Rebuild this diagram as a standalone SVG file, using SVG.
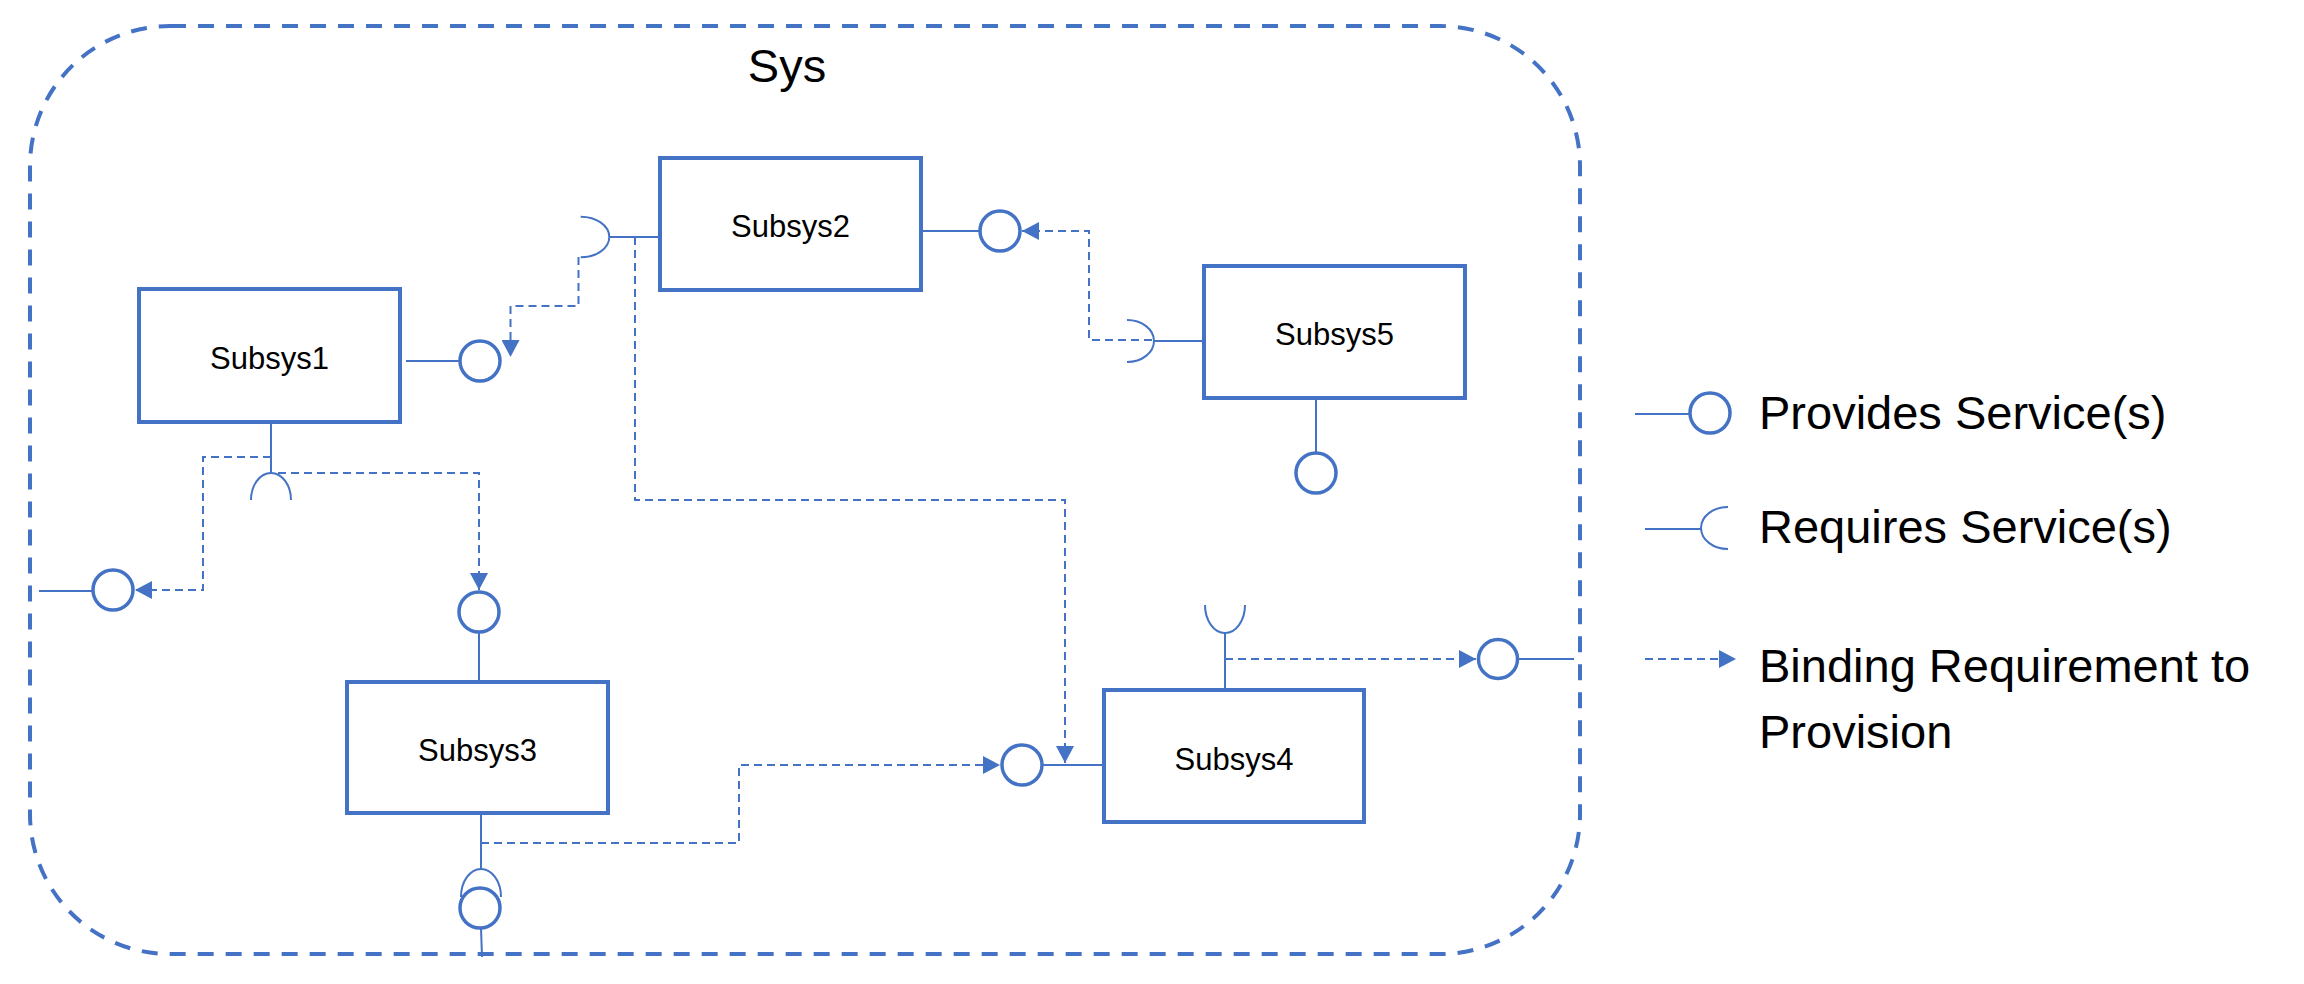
<svg xmlns="http://www.w3.org/2000/svg" width="2304" height="984" viewBox="0 0 2304 984">
<style>
.box{fill:#fff;stroke:#4472C4;stroke-width:4}
.ln{fill:none;stroke:#4472C4;stroke-width:2}
.ball{fill:#fff;stroke:#4472C4;stroke-width:3.5}
.dash{fill:none;stroke:#4472C4;stroke-width:2;stroke-dasharray:8 5;marker-end:url(#arr)}
.lbl{font-family:"Liberation Sans",Arial,sans-serif;font-size:31px;fill:#000;text-anchor:middle}
.big{font-family:"Liberation Sans",Arial,sans-serif;font-size:47px;fill:#000}
</style>
<defs>
<marker id="arr" markerUnits="userSpaceOnUse" markerWidth="18" markerHeight="18" refX="17" refY="9" orient="auto" viewBox="0 0 18 18">
<path d="M0,0 L17,9 L0,18 z" fill="#4472C4"/>
</marker>
</defs>
<rect id="sys-border" x="30" y="26" width="1550" height="928" rx="140" ry="140" fill="none" stroke="#4472C4" stroke-width="4" stroke-dasharray="16 12"/>
<text class="big" x="787" y="82" text-anchor="middle">Sys</text>

<g id="connectors">
<path class="dash" d="M578.5,257 V306 H510.5 V357"/>
<path class="dash" d="M635,237 V500 H1065 V763"/>
<path class="dash" d="M1152,340 H1089 V231 H1022"/>
<path class="dash" d="M271,457 H203 V590 H135"/>
<path class="dash" d="M278,473 H479 V590"/>
<path class="dash" d="M481,843 H739 V765 H1000"/>
<path class="dash" d="M1225,659 H1476"/>
</g>

<g id="subsys1">
<rect class="box" x="139" y="289" width="261" height="133"/>
<text class="lbl" x="269.5" y="369">Subsys1</text>
<line class="ln" x1="406" y1="361" x2="460" y2="361"/>
<circle class="ball" cx="480" cy="361" r="20"/>
<line class="ln" x1="271" y1="422" x2="271" y2="473"/>
<path class="ln" d="M251,500 A20,27 0 0 1 291,500"/>
</g>

<g id="port-left">
<line class="ln" x1="39" y1="591" x2="93" y2="591"/>
<circle class="ball" cx="113" cy="590" r="20"/>
</g>

<g id="subsys2">
<rect class="box" x="660" y="158" width="261" height="132"/>
<text class="lbl" x="790.5" y="237">Subsys2</text>
<path class="ln" d="M580.7,216.7 A28.6,20.3 0 0 1 580.7,257.3"/>
<line class="ln" x1="609" y1="237" x2="660" y2="237"/>
<line class="ln" x1="923" y1="231" x2="980" y2="231"/>
<circle class="ball" cx="1000" cy="231" r="20"/>
</g>

<g id="subsys5">
<rect class="box" x="1204" y="266" width="261" height="132"/>
<text class="lbl" x="1334.5" y="345">Subsys5</text>
<path class="ln" d="M1127,320 A27,21 0 0 1 1127,362"/>
<line class="ln" x1="1154" y1="341" x2="1204" y2="341"/>
<line class="ln" x1="1316" y1="398" x2="1316" y2="452"/>
<circle class="ball" cx="1316" cy="473" r="20"/>
</g>

<g id="subsys3">
<rect class="box" x="347" y="682" width="261" height="131"/>
<text class="lbl" x="477.5" y="761">Subsys3</text>
<circle class="ball" cx="479" cy="612" r="20"/>
<line class="ln" x1="479" y1="632" x2="479" y2="682"/>
<line class="ln" x1="481" y1="813" x2="481" y2="869"/>
<path class="ln" d="M461,897 A20,28 0 0 1 501,897"/>
<circle class="ball" cx="480" cy="908" r="20"/>
<line class="ln" x1="481" y1="928" x2="482" y2="957"/>
</g>

<g id="subsys4">
<rect class="box" x="1104" y="690" width="260" height="132"/>
<text class="lbl" x="1234" y="770">Subsys4</text>
<circle class="ball" cx="1022" cy="765" r="20"/>
<line class="ln" x1="1042" y1="765" x2="1104" y2="765"/>
<line class="ln" x1="1225" y1="633" x2="1225" y2="690"/>
<path class="ln" d="M1205,605 A20,28 0 0 0 1245,605"/>
<circle class="ball" cx="1498" cy="659" r="19.5"/>
<line class="ln" x1="1518" y1="659" x2="1574" y2="659"/>
</g>

<g id="legend">
<line class="ln" x1="1635" y1="414" x2="1690" y2="414"/>
<circle class="ball" cx="1710" cy="413" r="20"/>
<text class="big" x="1759" y="429">Provides Service(s)</text>
<line class="ln" x1="1645" y1="529" x2="1701" y2="529"/>
<path class="ln" d="M1728,507 A27,21 0 0 0 1728,549"/>
<text class="big" x="1759" y="543">Requires Service(s)</text>
<path class="dash" d="M1645,659 H1736"/>
<text class="big" x="1759" y="682">Binding Requirement to</text>
<text class="big" x="1759" y="748">Provision</text>
</g>
</svg>
